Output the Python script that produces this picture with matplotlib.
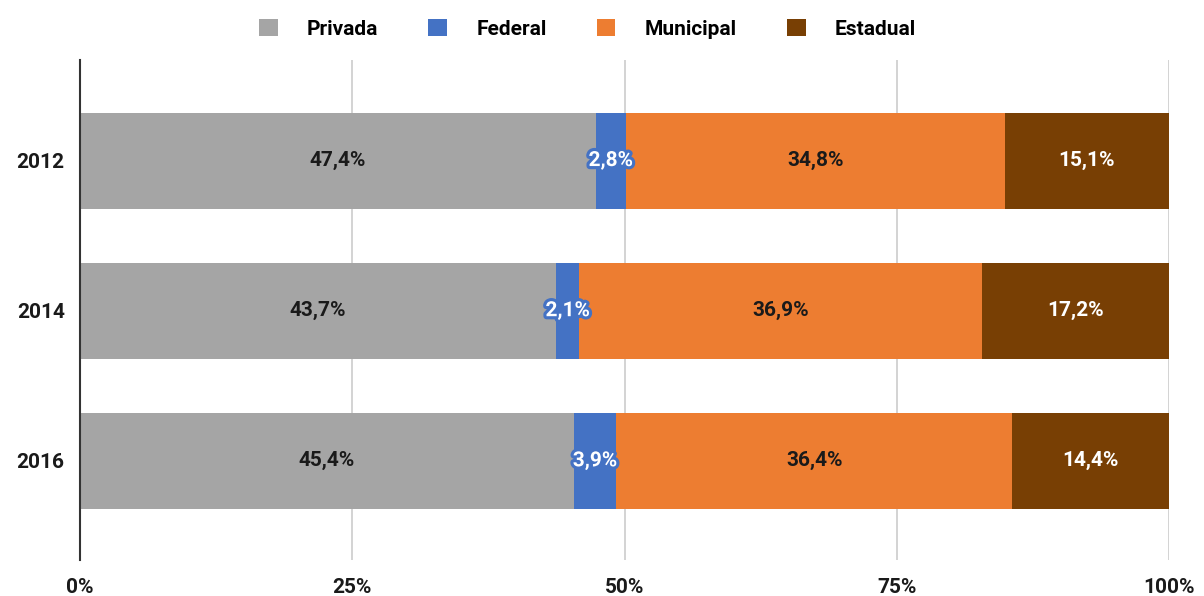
import numpy as np
import matplotlib.pyplot as plt
import matplotlib.patheffects as pe
from matplotlib.patches import Patch

anos = ["2012", "2014", "2016"]
series = ["Privada", "Federal", "Municipal", "Estadual"]
privada = [47.4, 43.7, 45.4]
federal = [2.8, 2.1, 3.9]
municipal = [34.8, 36.9, 36.4]
estadual = [15.1, 17.2, 14.4]
cores = ["#a5a5a5", "#4472c4", "#ed7d31", "#783f04"]
cor_texto = ["#1a1a1a", "white", "#1a1a1a", "white"]

plt.rcParams['font.family'] = ['Roboto', 'DejaVu Sans']

dados = np.array([privada, federal, municipal, estadual])
total = dados.sum(axis=0)
frac = dados / total * 100

fig = plt.figure(figsize=(12.04, 5.96), dpi=100)
ax = fig.add_axes([80 / 1204, 1 - 560 / 596, 1089 / 1204, 500 / 596])

y = np.arange(len(anos))
esq = np.zeros(len(anos))
for i, nome in enumerate(series):
    ax.barh(y, frac[i], left=esq, height=0.64, color=cores[i], zorder=3)
    for j in range(len(anos)):
        txt = ax.text(esq[j] + frac[i][j] / 2, y[j], f"{dados[i][j]:.1f}%".replace(".", ","),
                      ha="center", va="center", fontsize=15, fontweight="bold",
                      color=cor_texto[i], zorder=5)
        if nome == "Federal":
            txt.set_path_effects([pe.withStroke(linewidth=4.5, foreground=cores[1])])
    esq += frac[i]

ax.set_xlim(0, 100)
ax.set_ylim(2.66, -0.67)
ax.set_yticks(y)
ax.set_yticklabels(anos, fontsize=15, fontweight="bold", color="#1a1a1a")
ax.set_xticks([0, 25, 50, 75, 100])
ax.set_xticklabels(["0%", "25%", "50%", "75%", "100%"], fontsize=15,
                   fontweight="bold", color="#1a1a1a")
ax.tick_params(length=0)
ax.tick_params(axis="x", pad=13)
ax.tick_params(axis="y", pad=11)
ax.grid(axis="x", color="#cccccc", lw=1.2, zorder=0)
for s in ["top", "right", "bottom"]:
    ax.spines[s].set_visible(False)
ax.spines["left"].set_color("#333333")
ax.spines["left"].set_linewidth(1.5)
ax.spines["left"].set_zorder(4)

handles = [Patch(facecolor=c, label=n) for c, n in zip(cores, series)]
fig.legend(handles=handles, loc="upper center", bbox_to_anchor=(0.488, 1.0), ncol=4,
           frameon=False, prop={"size": 15, "weight": "bold"},
           handlelength=0.9, handleheight=0.9, columnspacing=2.4, handletextpad=1.4)

fig.savefig("out.png", dpi=100)
